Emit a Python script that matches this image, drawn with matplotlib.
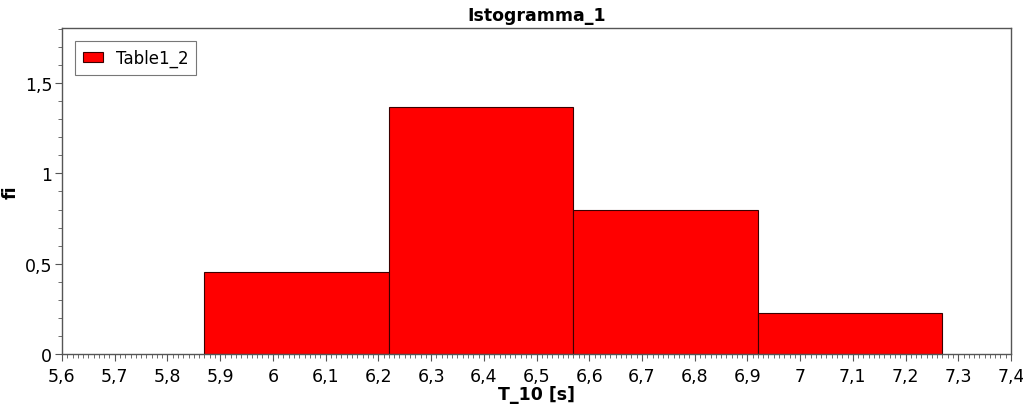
import matplotlib
matplotlib.use("Agg")
import matplotlib.pyplot as plt
import numpy as np
from matplotlib.ticker import MultipleLocator, FuncFormatter

# histogram bins (T_10 in seconds) and relative frequency densities
edges = [5.87, 6.22, 6.57, 6.92, 7.27]
fi = [0.454, 1.368, 0.797, 0.227]
series = "Table1_2"

plt.rcParams.update({"font.family": "DejaVu Sans", "font.size": 11})

fig = plt.figure(figsize=(10.23, 4.06), dpi=100)
ax = fig.add_axes([0.0606, 0.1256, 0.9277, 0.803])

left = np.array(edges[:-1])
width = np.diff(edges)
ax.bar(left, fi, width=width, align="edge", color="#ff0000",
       edgecolor="#3a0000", linewidth=0.8, label=series)

ax.set_xlim(5.6, 7.4)
ax.set_ylim(0, 1.805)
ax.xaxis.set_major_locator(MultipleLocator(0.1))
ax.xaxis.set_minor_locator(MultipleLocator(0.01))
ax.yaxis.set_major_locator(MultipleLocator(0.5))
ax.yaxis.set_minor_locator(MultipleLocator(0.1))

def comma(v, pos):
    s = f"{v:.1f}".rstrip("0").rstrip(".")
    return s.replace(".", ",")

ax.xaxis.set_major_formatter(FuncFormatter(comma))
ax.yaxis.set_major_formatter(FuncFormatter(comma))

for s in ax.spines.values():
    s.set_color("#555555")
    s.set_linewidth(1.0)
ax.tick_params(which="major", length=5, color="#555555", labelsize=12.5)
ax.tick_params(axis="x", which="major", pad=4)
ax.tick_params(axis="y", which="major", pad=2)
ax.tick_params(which="minor", length=3, color="#555555")

ax.set_title("Istogramma_1", fontweight="bold", fontsize=12.5, pad=6)
ax.set_xlabel("T_10 [s]", fontweight="bold", fontsize=12.5, labelpad=0)
ax.set_ylabel("fi", fontweight="bold", fontsize=12.5, labelpad=4)

leg = ax.legend(loc="upper left", fancybox=False, edgecolor="#777777",
                framealpha=1, handlelength=1.2, handleheight=0.6,
                borderpad=0.45, fontsize=12, borderaxespad=0.8)
leg.get_frame().set_linewidth(0.8)

fig.savefig("out.png", dpi=100)
